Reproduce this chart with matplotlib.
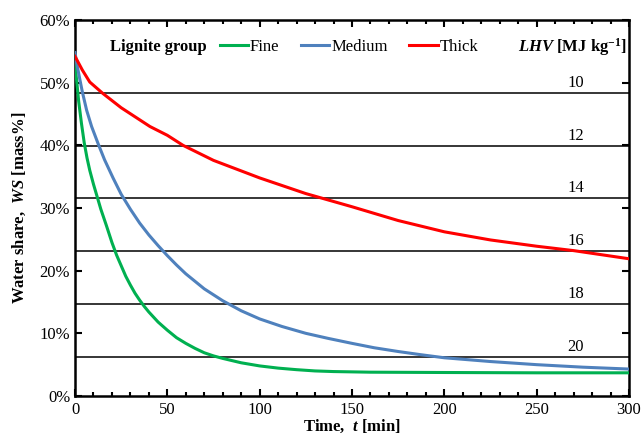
import matplotlib
matplotlib.use("Agg")
import matplotlib.pyplot as plt
from matplotlib.ticker import MultipleLocator, PercentFormatter

plt.rcParams["font.family"] = ["Liberation Serif", "DejaVu Serif"]
plt.rcParams["mathtext.fontset"] = "custom"
plt.rcParams["mathtext.rm"] = "Liberation Serif:bold"
plt.rcParams["mathtext.it"] = "Liberation Serif:bold:italic"
plt.rcParams["mathtext.bf"] = "Liberation Serif:bold"

# --- data ---
t_fine = [0, 1, 2, 3.5, 5, 6.5, 8, 10, 12, 14, 17, 20, 22.5, 25, 27.5, 30, 32.5,
          35, 37.5, 40, 45, 50, 55, 60, 65, 70, 75, 80, 90, 100, 110, 120, 130,
          140, 160, 200, 250, 300]
ws_fine = [53.0, 50.0, 47.0, 43.5, 40.4, 38.0, 36.0, 33.8, 31.8, 29.8, 27.2, 24.5,
           22.5, 20.8, 19.1, 17.7, 16.4, 15.3, 14.3, 13.4, 11.8, 10.5, 9.3, 8.4,
           7.6, 6.9, 6.4, 6.0, 5.3, 4.8, 4.45, 4.2, 4.0, 3.9, 3.8, 3.75, 3.7, 3.7]

t_medium = [0, 1, 2.7, 4, 6.3, 9, 12.6, 16, 20.6, 25, 30, 35, 40, 45, 50, 55, 60,
            70, 80, 90, 100, 112, 125, 137, 150, 162, 175, 187, 200, 225, 250,
            275, 300]
ws_medium = [54.8, 53.0, 50.4, 48.5, 45.6, 43.0, 40.2, 37.7, 34.8, 32.2, 29.8, 27.6,
             25.7, 24.0, 22.4, 20.9, 19.5, 17.1, 15.2, 13.6, 12.3, 11.1, 10.0, 9.2,
             8.4, 7.7, 7.1, 6.6, 6.1, 5.5, 5.0, 4.6, 4.3]

t_thick = [0, 4, 8, 15, 25, 40.6, 50, 58.5, 75, 100, 125, 150, 175, 200, 225, 250,
           270, 300]
ws_thick = [54.2, 52.0, 50.1, 48.3, 46.0, 43.0, 41.6, 40.0, 37.6, 34.8, 32.3, 30.2,
            28.0, 26.2, 24.9, 23.9, 23.2, 21.9]

lhv_levels = [48.4, 39.9, 31.6, 23.2, 14.7, 6.3]
lhv_labels = ["10", "12", "14", "16", "18", "20"]

series_names = ["Fine", "Medium", "Thick"]
series_colors = ["#00b050", "#4f81bd", "#ff0000"]

fig = plt.figure(figsize=(6.43, 4.38), dpi=100)
ax = fig.add_axes([75 / 643, 1 - 396 / 438, 554 / 643, 376 / 438])

for lvl, lab in zip(lhv_levels, lhv_labels):
    ax.axhline(lvl, color="black", linewidth=1.1, zorder=1)
    ax.text(271, lvl + 0.3, lab, ha="center", va="bottom", fontsize=12)

for t, ws, name, col in zip([t_fine, t_medium, t_thick],
                            [ws_fine, ws_medium, ws_thick],
                            series_names, series_colors):
    ax.plot(t, ws, color=col, linewidth=2.2, label=name, zorder=3)

ax.set_xlim(0, 300)
ax.set_ylim(0, 60)
ax.xaxis.set_major_locator(MultipleLocator(50))
ax.xaxis.set_minor_locator(MultipleLocator(10))
ax.yaxis.set_major_locator(MultipleLocator(10))
ax.yaxis.set_major_formatter(PercentFormatter(decimals=0))
ax.tick_params(which="both", direction="in", top=True, right=True, labelsize=12,
               width=1.5)
ax.tick_params(which="major", length=5)
ax.tick_params(which="minor", length=3)
ax.tick_params(axis="x", pad=4)
for s in ax.spines.values():
    s.set_linewidth(1.8)

ax.set_xlabel("Time,  $t$ [min]", fontsize=12, fontweight="bold", labelpad=0)
ax.set_ylabel("Water share,  $WS$ [mass%]", fontsize=12, fontweight="bold",
              labelpad=8)

fig.text(110 / 643, 1 - 47 / 438, "Lignite group", fontsize=12, fontweight="bold",
         va="center", ha="left")
ax.legend(loc="center left", bbox_to_anchor=(220 / 643, 1 - 47 / 438),
          bbox_transform=fig.transFigure, ncol=3, frameon=False, fontsize=12,
          handlelength=1.7, handletextpad=0.1, columnspacing=1.3,
          borderaxespad=0, borderpad=0)
fig.text(627 / 643, 1 - 47 / 438, "$LHV$ [MJ kg$^{-1}$]", fontsize=12,
         fontweight="bold", va="center", ha="right")

fig.savefig("out.png", dpi=100)
